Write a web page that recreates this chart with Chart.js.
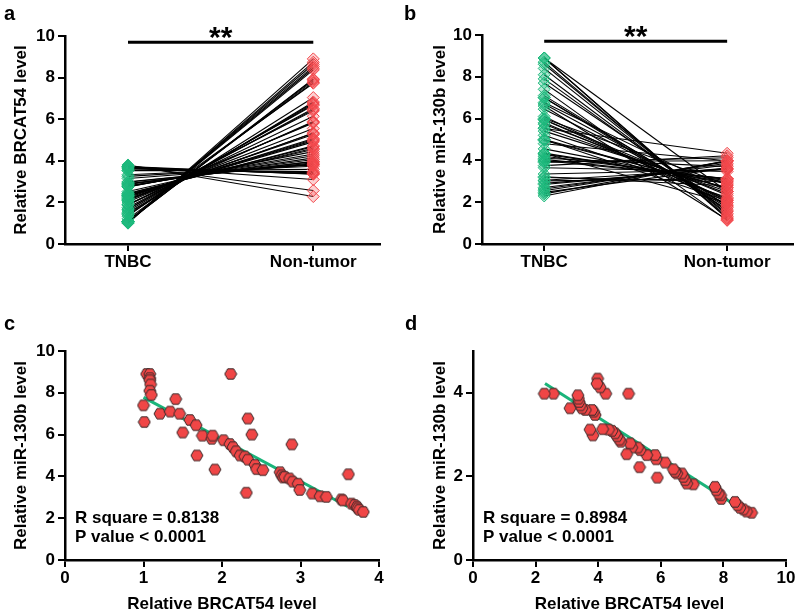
<!DOCTYPE html>
<html><head><meta charset="utf-8">
<script src="https://cdn.jsdelivr.net/npm/chart.js@4.4.0/dist/chart.umd.min.js"></script>
<style>
body{margin:0;background:#fff;width:800px;height:612px;overflow:hidden;position:relative;}
.p{position:absolute;}
</style></head><body>
<div class="p" style="left:0;top:0"><canvas id="ca" width="400" height="306"></canvas></div>
<div class="p" style="left:400px;top:0"><canvas id="cb" width="400" height="306"></canvas></div>
<div class="p" style="left:0;top:306px"><canvas id="cc" width="400" height="310"></canvas></div>
<div class="p" style="left:400px;top:306px"><canvas id="cd" width="400" height="310"></canvas></div>
<script>
// ---- data ----
const groups = ['TNBC', 'Non-tumor'];
const tnbcBrcat = [1.00,1.01,1.04,1.08,1.08,1.08,1.09,1.08,1.10,1.21,1.34,1.41,1.46,1.50,1.59,1.67,1.68,1.75,1.87,1.88,1.91,2.02,2.10,2.11,2.14,2.18,2.23,2.29,2.31,2.33,2.33,2.38,2.42,2.44,2.52,2.74,2.76,2.78,2.80,2.86,2.89,2.90,2.97,2.99,3.15,3.25,3.33,3.52,3.54,3.61,3.65,3.69,3.72,3.73,3.75,3.80];
const tnbcMir = [7.4,6.6,8.9,8.9,8.7,8.6,8.4,8.1,7.9,7.0,7.1,7.7,7.0,6.1,6.7,6.45,5.0,5.95,5.8,5.95,4.33,5.73,5.55,8.9,5.4,5.2,5.0,4.95,3.22,4.8,6.77,6.0,4.55,4.35,4.3,4.2,4.05,3.95,3.98,3.9,5.53,3.75,3.65,3.35,3.18,3.05,3.02,2.9,2.85,4.1,2.7,2.63,2.55,2.47,2.4,2.3];
const ntBrcat = [8.90,8.74,8.64,8.53,8.45,8.37,7.93,7.91,7.84,7.77,7.73,7.04,6.83,6.78,6.72,6.67,6.51,6.45,6.40,6.14,5.89,5.85,5.82,5.55,5.34,5.32,5.26,5.07,5.02,4.97,4.91,4.72,4.68,4.60,4.54,4.44,4.33,4.24,4.14,4.06,3.98,3.96,3.90,3.85,3.83,3.80,3.74,3.59,3.48,3.43,3.39,3.37,3.35,3.10,2.57,2.28];
const ntMir = [1.13,1.16,1.21,1.25,1.31,1.39,1.46,1.55,1.59,1.67,1.75,1.81,1.83,1.91,1.99,2.07,2.07,2.11,2.17,2.33,1.97,2.41,2.51,2.51,2.63,2.22,2.69,2.69,2.79,3.98,2.53,2.83,2.88,2.96,3.03,3.09,3.12,3.98,3.13,4.13,4.34,4.22,3.47,3.55,2.98,3.59,3.12,3.59,3.63,3.70,3.78,3.86,3.94,3.63,3.98,3.98];
const fitCx = [1.0, 3.6];
const fitCy = [7.78, 2.56];
const fitDx = [2.3, 8.3];
const fitDy = [4.22, 1.35];
const sigLevel = [9.7, 9.7];
const sigText = '**';
const statsC = ['R square = 0.8138', 'P value < 0.0001'];
const statsD = ['R square = 0.8984', 'P value < 0.0001'];
const ticksPairY = [0,2,4,6,8,10];
const ticksCX = [0,1,2,3,4];
const ticksCY = [0,2,4,6,8,10];
const ticksDX = [0,2,4,6,8,10];
const ticksDY = [0,2,4];
const titleBrcat = 'Relative BRCAT54 level';
const titleMir = 'Relative miR-130b level';

// ---- styles ----
const FAM = '"Liberation Sans", Arial, sans-serif';
const GREEN = '#1db97b', GREEN_F = 'rgba(29,185,123,0.32)';
const RED = '#f2474b', RED_F = 'rgba(242,71,75,0.25)';
const FIT = '#1ab47a';

function hexImg(r, fill, stroke){
  const s = Math.ceil(2*r+2);
  const c = document.createElement('canvas'); c.width = s; c.height = s;
  const g = c.getContext('2d');
  g.beginPath();
  for(let k=0;k<6;k++){const a=Math.PI/3*k;const px=s/2+r*Math.cos(a),py=s/2+r*Math.sin(a);k?g.lineTo(px,py):g.moveTo(px,py);}
  g.closePath(); g.fillStyle=fill; g.fill(); g.lineWidth=1; g.strokeStyle=stroke; g.stroke();
  return c;
}
const HEX = hexImg(6, '#f04646', '#3a2a2a');

function scale(o){
  return {
    type:'linear', min:o.min, max:o.max,
    afterFit: s => { if (s.isHorizontal()) s.height = o.size; else s.width = o.size; },
    afterBuildTicks: s => { s.ticks = o.ticks.map(v => ({value:v})); },
    border:{display:true,color:'#000',width:2.5},
    grid:{display:true,drawOnChartArea:false,drawTicks:true,tickLength:7,color:'#000',lineWidth:2},
    ticks:{color:'#000',autoSkip:false,maxRotation:0,padding:o.pad,font:{family:FAM,size:17,weight:'bold'},
      callback: o.cb || (v => String(v))},
    title:{display:!!o.title,text:o.title||'',color:'#000',font:{family:FAM,size:17,weight:'bold'},padding:o.tpad||0}
  };
}

function textPlugin(letter, lx, ly, extra){
  return {id:'txt'+letter, afterDraw(chart){
    const ctx = chart.ctx; ctx.save();
    ctx.fillStyle = '#000';
    ctx.font = 'bold 20px ' + FAM; ctx.textAlign='left'; ctx.textBaseline='alphabetic';
    ctx.fillText(letter, lx, ly);
    extra && extra(chart, ctx);
    ctx.restore();
  }};
}
function sigDraw(chart, ctx){
  const xs = chart.scales.x, ys = chart.scales.y;
  const cx = (xs.getPixelForValue(0)+xs.getPixelForValue(1))/2;
  const y = ys.getPixelForValue(sigLevel[0]);
  ctx.font = 'bold 30px ' + FAM; ctx.textAlign='center'; ctx.textBaseline='alphabetic';
  ctx.fillText(sigText, cx, y + 5);
}
function statsDraw(lines){
  return (chart, ctx) => {
    const xs = chart.scales.x, a = chart.chartArea;
    ctx.font = 'bold 17px ' + FAM; ctx.textAlign='left'; ctx.textBaseline='alphabetic';
    ctx.fillText(lines[0], xs.getPixelForValue(0) + 10, a.bottom - 37);
    ctx.fillText(lines[1], xs.getPixelForValue(0) + 10, a.bottom - 18);
  };
}

function pairedChart(id, before, after, ytitle, pad, letter, lx, ly, tpad, ywidth){
  const ds = [];
  ds.push({data: before.map(v=>({x:0,y:v})), pointStyle:'rectRot', pointRadius:6, backgroundColor:GREEN_F, borderColor:GREEN, borderWidth:1, order:0, clip:false});
  ds.push({data: after.map(v=>({x:1,y:v})), pointStyle:'rectRot', pointRadius:6, backgroundColor:RED_F, borderColor:RED, borderWidth:1, order:0, clip:false});
  for (let i=0;i<before.length;i++){
    ds.push({data:[{x:0,y:before[i]},{x:1,y:after[i]}], showLine:true, borderColor:'#000', borderWidth:1.1, pointRadius:0, order:1});
  }
  ds.push({data:[{x:0,y:sigLevel[0]},{x:1,y:sigLevel[1]}], showLine:true, borderColor:'#000', borderWidth:3, pointRadius:0, order:1, clip:false});
  return new Chart(document.getElementById(id), {
    type:'scatter', data:{datasets:ds},
    options:{responsive:false, animation:false, events:[], devicePixelRatio:1,
      layout:{padding:pad},
      plugins:{legend:{display:false}, tooltip:{enabled:false}},
      scales:{
        x: scale({min:-0.34,max:1.36,ticks:[0,1],size:62,pad:1,cb:v=>groups[v]}),
        y: scale({min:0,max:10,ticks:ticksPairY,size:ywidth,pad:3,title:ytitle,tpad:{top:tpad,bottom:0}})
      }},
    plugins:[textPlugin(letter, lx, ly, sigDraw)]
  });
}

pairedChart('ca', tnbcBrcat, ntBrcat, titleBrcat, {left:0,top:36,right:20,bottom:0}, 'a', 4, 20, 11.5, 65);
pairedChart('cb', tnbcMir, ntMir, titleMir, {left:0,top:35,right:2,bottom:0}, 'b', 4, 20, 29.8, 82);

function scatterChart(id, xs, ys, fx, fy, xo, yo, pad, letter, lx, ly, tpad, ywidth, stats){
  const ds = [
    {data: xs.map((v,i)=>({x:v,y:ys[i]})), pointStyle:HEX, pointRadius:6, order:0, clip:false},
    {data: fx.map((v,i)=>({x:v,y:fy[i]})), showLine:true, borderColor:FIT, borderWidth:3, pointRadius:0, order:1}
  ];
  return new Chart(document.getElementById(id), {
    type:'scatter', data:{datasets:ds},
    options:{responsive:false, animation:false, events:[], devicePixelRatio:1,
      layout:{padding:pad},
      plugins:{legend:{display:false}, tooltip:{enabled:false}},
      scales:{
        x: scale(Object.assign({size:56,pad:1,title:titleBrcat,tpad:{top:0,bottom:1.8}}, xo)),
        y: scale(Object.assign({size:ywidth,pad:3,title:titleMir,tpad:{top:tpad,bottom:0}}, yo))
      }},
    plugins:[textPlugin(letter, lx, ly, statsDraw(stats))]
  });
}

scatterChart('cc', tnbcBrcat, tnbcMir, fitCx, fitCy, {min:0,max:4,ticks:ticksCX}, {min:0,max:10,ticks:ticksCY},
  {left:0,top:45,right:21,bottom:0}, 'c', 4, 24, 11.5, 65, statsC);
scatterChart('cd', ntBrcat, ntMir, fitDx, fitDy, {min:0,max:10,ticks:ticksDX}, {min:0,max:5,ticks:ticksDY},
  {left:0,top:45,right:14,bottom:0}, 'd', 5, 24, 29.8, 73, statsD);
</script>
</body></html>
